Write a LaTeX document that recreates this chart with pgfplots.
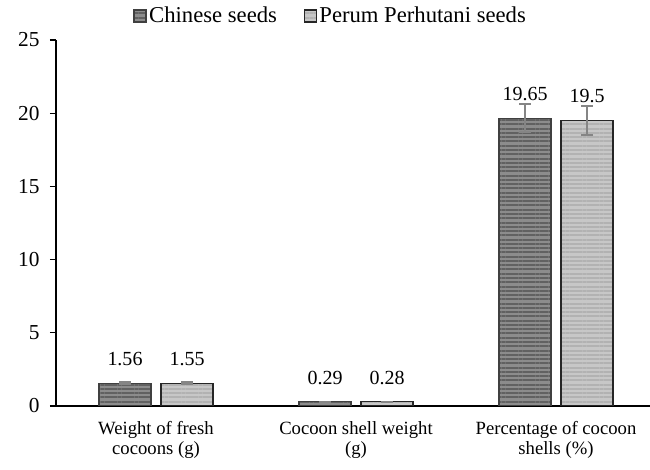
\documentclass[border=0pt]{standalone}
\usepackage{fontspec}
\setmainfont{Liberation Serif}
\usepackage{pgfplots}
\pgfplotsset{compat=1.18}
\usetikzlibrary{patterns.meta}

\definecolor{errgray}{HTML}{858585}

\begin{document}
\fontsize{14pt}{16pt}\selectfont
\begin{tikzpicture}
\begin{axis}[
  scale only axis,
  width=445.5pt, height=274.5pt,
  xmin=-0.5, xmax=2.47,
  ymin=0, ymax=25,
  axis x line*=bottom, axis y line*=left,
  x axis line style={line width=1.5pt, black, -},
  y axis line style={line width=1pt, black, -},
  xtick={0,1,2},
  xticklabels={{Weight of fresh\\cocoons (g)},{Cocoon shell weight\\(g)},{Percentage of cocoon\\shells (\%)}},
  xticklabel style={align=center, yshift=-2pt, font=\fontsize{14pt}{15.5pt}\selectfont},
  x tick style={draw=none},
  ytick={0,5,10,15,20,25},
  y tick style={black, line width=0.8pt},
  tick align=outside,
  major tick length=4.5pt,
  yticklabel style={xshift=-3pt, font=\fontsize{16pt}{17pt}\selectfont},
  /pgf/number format/assume math mode=true,
  ybar, bar width=0.26,
  nodes near coords,
  nodes near coords style={anchor=south, yshift=8pt, font=\fontsize{15pt}{16pt}\selectfont, /pgf/number format/fixed, /pgf/number format/precision=2},
  legend style={at={(0.463,1.025)}, anchor=south, draw=none, fill=none,
    legend columns=2, font=\fontsize{17pt}{18pt}\selectfont,
    /tikz/every even column/.append style={column sep=18pt}},
  legend image code/.code={\draw[#1] (0pt,-4.5pt) rectangle (9pt,4.5pt);},
  error bars/y dir=both, error bars/y explicit,
  error bars/error bar style={errgray, line width=1.4pt},
  error bars/error mark options={rotate=90, mark size=4.5pt, errgray, line width=1.4pt},
]
\addplot[bar shift=-0.155, draw=black!75, line width=0.8pt,
  preaction={left color=black!45, middle color=black!12, right color=black!45},
  pattern={Lines[angle=0, distance=3.2pt, line width=1.5pt]}, pattern color=black!62]
  coordinates {(0,1.56) +- (0,0.08) (1,0.29) +- (0,0.02) (2,19.65) +- (0,0.96)};
\addplot[bar shift=0.155, draw=black!85, line width=0.8pt,
  preaction={left color=black!22, middle color=black!4, right color=black!22},
  pattern={Lines[angle=0, distance=3.2pt, line width=1.5pt]}, pattern color=black!30]
  coordinates {(0,1.55) +- (0,0.07) (1,0.28) +- (0,0.02) (2,19.5) +- (0,0.99)};
\legend{Chinese seeds, Perum Perhutani seeds}
\end{axis}
\pgfresetboundingbox
\path[use as bounding box] (-42pt,-48pt) rectangle (445.5pt,304.5pt);
\end{tikzpicture}
\end{document}
